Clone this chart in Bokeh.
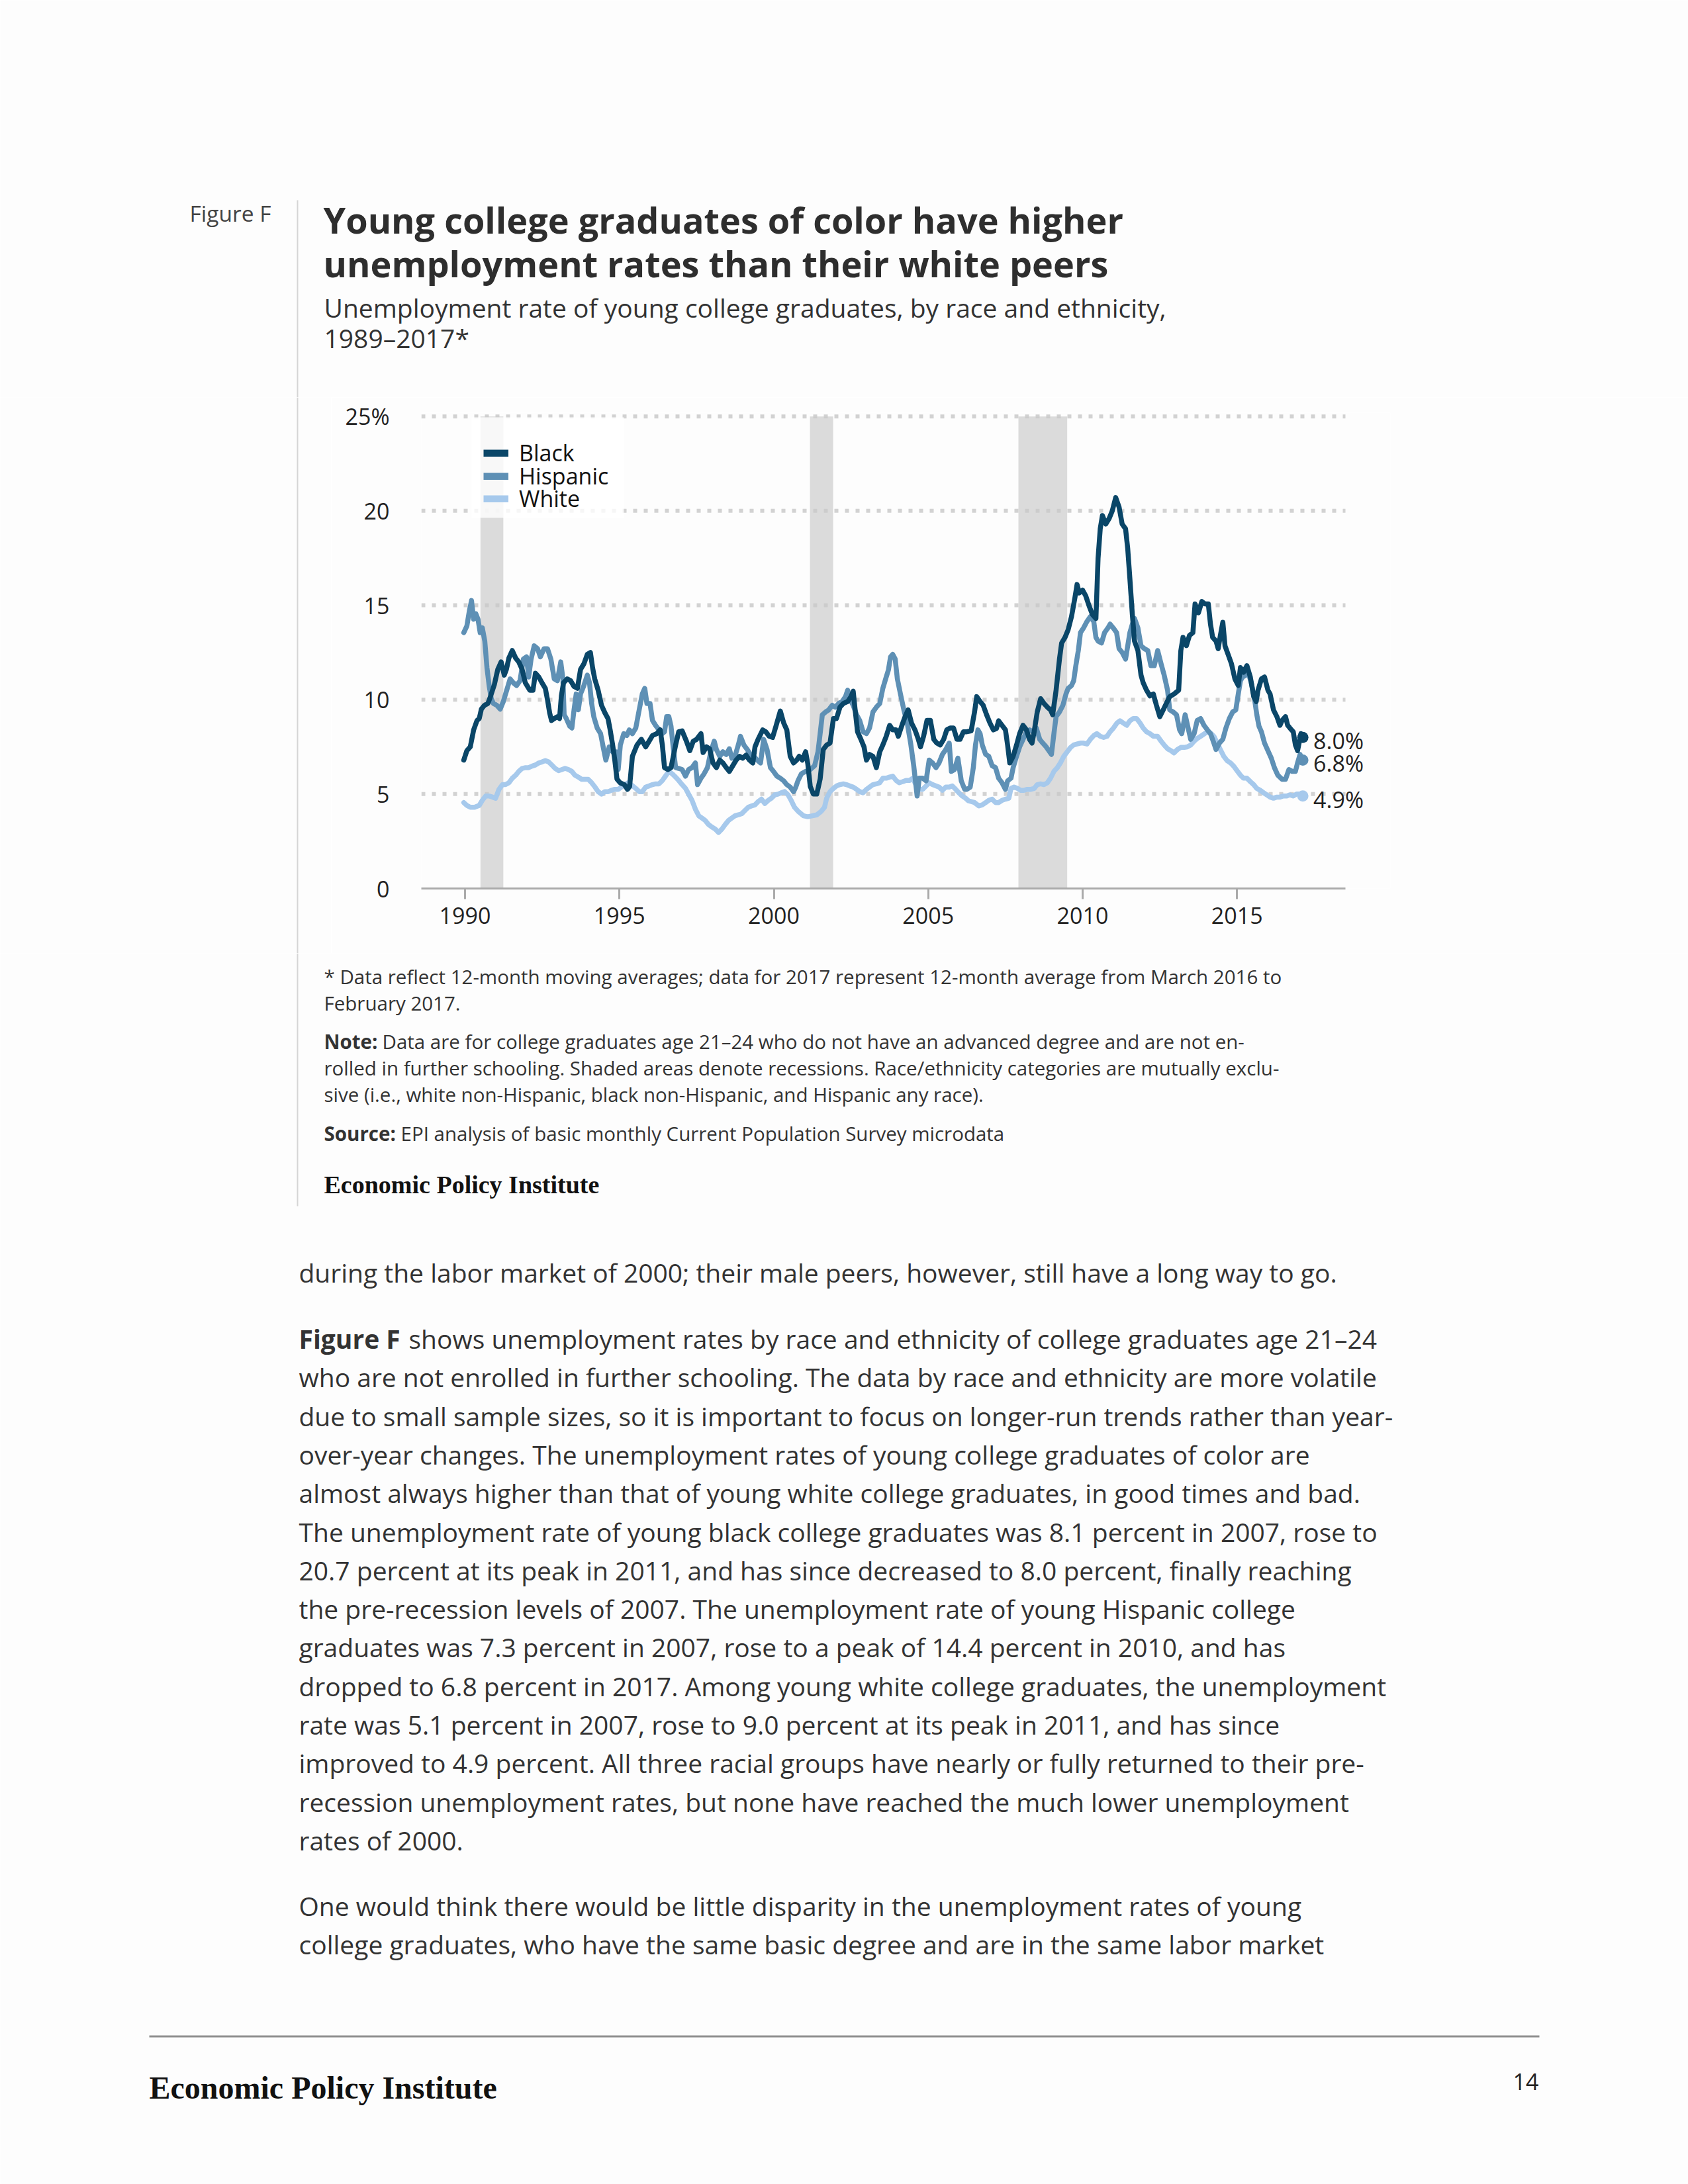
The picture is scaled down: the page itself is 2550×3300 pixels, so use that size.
from bokeh.plotting import figure
from bokeh.layouts import column, row
from bokeh.models import Range1d, FixedTicker, Label, LabelSet, Legend, LegendItem, BoxAnnotation, ColumnDataSource
from bokeh.core.properties import value
from bokeh.embed import file_html
from bokeh.resources import INLINE

# ---------------- data ----------------
black_year = [1989.96, 1990.06, 1990.17, 1990.28, 1990.39, 1990.46, 1990.53, 1990.63, 1990.74, 1990.81, 1990.95,
              1991.06, 1991.17, 1991.27, 1991.34, 1991.42, 1991.53, 1991.64, 1991.74, 1991.85, 1991.95, 1992.10,
              1992.20, 1992.28, 1992.39, 1992.49, 1992.60, 1992.67, 1992.74, 1992.80, 1992.89, 1992.99, 1993.06,
              1993.12, 1993.19, 1993.31, 1993.42, 1993.53, 1993.64, 1993.74, 1993.85, 1993.96, 1994.06, 1994.13,
              1994.20, 1994.31, 1994.42, 1994.53, 1994.63, 1994.70, 1994.78, 1994.85, 1994.92, 1995.02, 1995.16,
              1995.26, 1995.33, 1995.42, 1995.57, 1995.71, 1995.85, 1995.96, 1996.07, 1996.21, 1996.32, 1996.39,
              1996.46, 1996.57, 1996.67, 1996.82, 1996.92, 1997.03, 1997.17, 1997.28, 1997.39, 1997.50, 1997.64,
              1997.71, 1997.82, 1997.92, 1998.03, 1998.14, 1998.25, 1998.35, 1998.46, 1998.56, 1998.67, 1998.78,
              1998.89, 1998.99, 1999.10, 1999.21, 1999.32, 1999.39, 1999.49, 1999.64, 1999.74, 1999.85, 1999.96,
              2000.07, 2000.21, 2000.32, 2000.42, 2000.53, 2000.64, 2000.74, 2000.82, 2000.92, 2001.03, 2001.10,
              2001.18, 2001.28, 2001.39, 2001.50, 2001.60, 2001.71, 2001.82, 2001.93, 2002.03, 2002.14, 2002.25,
              2002.39, 2002.50, 2002.57, 2002.64, 2002.71, 2002.82, 2002.92, 2003.00, 2003.10, 2003.21, 2003.32,
              2003.43, 2003.53, 2003.64, 2003.75, 2003.85, 2003.96, 2004.03, 2004.14, 2004.25, 2004.35, 2004.46,
              2004.57, 2004.68, 2004.75, 2004.85, 2004.96, 2005.07, 2005.18, 2005.28, 2005.39, 2005.50, 2005.60,
              2005.71, 2005.82, 2005.93, 2006.03, 2006.14, 2006.25, 2006.39, 2006.50, 2006.57, 2006.68, 2006.78,
              2006.89, 2007.00, 2007.11, 2007.21, 2007.28, 2007.39, 2007.50, 2007.57, 2007.64, 2007.75, 2007.86,
              2007.96, 2008.07, 2008.18, 2008.28, 2008.36, 2008.43, 2008.53, 2008.64, 2008.75, 2008.86, 2008.96,
              2009.03, 2009.14, 2009.25, 2009.32, 2009.43, 2009.53, 2009.64, 2009.75, 2009.82, 2009.89, 2010.00,
              2010.10, 2010.21, 2010.32, 2010.43, 2010.50, 2010.57, 2010.64, 2010.75, 2010.86, 2010.96, 2011.07,
              2011.18, 2011.28, 2011.39, 2011.46, 2011.53, 2011.61, 2011.68, 2011.79, 2011.89, 2011.96, 2012.07,
              2012.18, 2012.29, 2012.39, 2012.50, 2012.61, 2012.71, 2012.82, 2012.96, 2013.11, 2013.18, 2013.25,
              2013.36, 2013.46, 2013.57, 2013.64, 2013.75, 2013.86, 2013.96, 2014.07, 2014.14, 2014.21, 2014.32,
              2014.39, 2014.46, 2014.54, 2014.61, 2014.71, 2014.82, 2014.93, 2015.04, 2015.11, 2015.21, 2015.32,
              2015.43, 2015.54, 2015.62, 2015.68, 2015.79, 2015.89, 2016.00, 2016.07, 2016.18, 2016.29, 2016.39,
              2016.46, 2016.57, 2016.64, 2016.71, 2016.82, 2016.89, 2016.96, 2017.07, 2017.13]
black_rate = [6.8, 7.3, 7.5, 8.4, 8.9, 9.0, 9.5, 9.7, 9.8, 10.1, 10.8,
              11.6, 12.0, 11.3, 11.6, 12.2, 12.6, 12.2, 12.0, 11.6, 10.9, 10.5,
              10.5, 11.4, 11.2, 10.9, 10.6, 10.0, 9.3, 8.9, 9.0, 9.1, 9.0,
              10.2, 10.9, 11.1, 11.0, 10.7, 10.6, 11.6, 11.9, 12.4, 12.5, 11.7,
              11.1, 10.5, 9.7, 9.3, 9.0, 8.4, 7.6, 6.8, 5.8, 5.6, 5.5,
              5.25, 5.4, 7.0, 7.6, 7.9, 7.5, 7.8, 8.1, 8.2, 8.4, 7.6,
              6.4, 6.3, 6.4, 7.6, 8.3, 8.35, 7.8, 7.3, 7.8, 7.9, 8.2,
              7.2, 7.5, 7.4, 6.65, 6.4, 6.8, 6.65, 6.4, 6.2, 6.5, 6.8,
              7.0, 6.9, 7.06, 6.8, 6.65, 7.5, 7.9, 8.4, 8.3, 8.06, 8.0,
              8.6, 9.4, 8.76, 8.4, 7.0, 6.65, 6.8, 7.0, 6.8, 7.24, 6.6,
              5.4, 5.0, 5.0, 5.8, 7.36, 7.6, 7.7, 9.0, 9.0, 9.6, 9.8,
              9.9, 10.16, 10.45, 9.35, 8.3, 7.9, 7.5, 6.8, 7.1, 7.0, 6.4,
              7.24, 7.6, 8.06, 8.64, 8.4, 8.4, 8.06, 8.6, 9.1, 9.46, 8.76,
              8.4, 7.9, 7.5, 8.06, 8.9, 8.9, 7.9, 7.7, 7.6, 7.9, 8.4,
              8.5, 8.5, 7.9, 7.9, 8.3, 8.3, 8.35, 9.35, 10.16, 9.9, 9.7,
              9.2, 8.76, 8.4, 8.47, 8.88, 8.64, 8.4, 7.6, 6.65, 7.0, 7.6,
              8.2, 8.64, 8.4, 7.9, 7.7, 8.3, 9.35, 10.05, 9.8, 9.6, 9.46,
              9.2, 10.5, 12.15, 13.0, 13.3, 13.7, 14.4, 15.4, 16.1, 15.65, 15.8,
              15.5, 14.96, 14.5, 14.3, 17.5, 19.05, 19.75, 19.3, 19.6, 20.0, 20.7,
              20.2, 19.3, 19.05, 18.0, 16.4, 14.5, 13.1, 12.6, 11.3, 10.9, 10.5,
              10.2, 10.3, 9.7, 9.1, 9.46, 9.8, 10.16, 10.3, 10.5, 12.6, 13.3,
              12.86, 13.4, 13.55, 15.07, 14.6, 15.2, 15.07, 15.07, 14.0, 13.3, 13.1,
              12.7, 13.4, 14.1, 12.85, 12.4, 11.9, 11.1, 10.75, 11.7, 11.45, 11.8,
              11.2, 10.16, 9.9, 10.5, 11.1, 11.2, 10.5, 10.3, 9.46, 9.1, 8.64,
              8.9, 9.1, 8.64, 8.5, 8.3, 7.6, 7.3, 8.2, 8.0]

hisp_year = [1989.96, 1990.06, 1990.14, 1990.21, 1990.28, 1990.35, 1990.42, 1990.49, 1990.56, 1990.64, 1990.71,
             1990.78, 1990.85, 1990.92, 1991.03, 1991.14, 1991.24, 1991.35, 1991.46, 1991.56, 1991.67, 1991.78,
             1991.89, 1991.99, 1992.06, 1992.14, 1992.24, 1992.35, 1992.44, 1992.56, 1992.67, 1992.78, 1992.89,
             1992.99, 1993.10, 1993.17, 1993.21, 1993.28, 1993.39, 1993.46, 1993.53, 1993.60, 1993.67, 1993.74,
             1993.85, 1993.96, 1994.03, 1994.10, 1994.17, 1994.28, 1994.39, 1994.49, 1994.56, 1994.67, 1994.78,
             1994.89, 1994.96, 1995.03, 1995.14, 1995.24, 1995.32, 1995.42, 1995.53, 1995.64, 1995.74, 1995.82,
             1995.89, 1995.99, 1996.07, 1996.17, 1996.28, 1996.39, 1996.46, 1996.53, 1996.60, 1996.67, 1996.74,
             1996.82, 1996.92, 1997.03, 1997.14, 1997.24, 1997.35, 1997.46, 1997.53, 1997.64, 1997.74, 1997.85,
             1997.96, 1998.07, 1998.14, 1998.25, 1998.35, 1998.46, 1998.56, 1998.64, 1998.74, 1998.85, 1998.92,
             1999.03, 1999.14, 1999.24, 1999.35, 1999.46, 1999.57, 1999.67, 1999.78, 1999.89, 1999.99, 2000.10,
             2000.21, 2000.32, 2000.42, 2000.53, 2000.64, 2000.71, 2000.78, 2000.89, 2001.03, 2001.18, 2001.32,
             2001.43, 2001.50, 2001.57, 2001.68, 2001.78, 2001.89, 2001.99, 2002.10, 2002.21, 2002.32, 2002.39,
             2002.46, 2002.57, 2002.68, 2002.78, 2002.89, 2003.00, 2003.10, 2003.21, 2003.32, 2003.43, 2003.53,
             2003.64, 2003.71, 2003.78, 2003.85, 2003.93, 2004.00, 2004.10, 2004.21, 2004.32, 2004.43, 2004.53,
             2004.64, 2004.71, 2004.82, 2004.93, 2005.03, 2005.14, 2005.25, 2005.35, 2005.46, 2005.57, 2005.68,
             2005.75, 2005.85, 2005.96, 2006.07, 2006.18, 2006.25, 2006.36, 2006.46, 2006.53, 2006.61, 2006.68,
             2006.75, 2006.86, 2006.96, 2007.07, 2007.18, 2007.28, 2007.39, 2007.50, 2007.57, 2007.68, 2007.75,
             2007.86, 2007.96, 2008.07, 2008.18, 2008.28, 2008.39, 2008.50, 2008.61, 2008.71, 2008.82, 2008.93,
             2008.99, 2009.07, 2009.14, 2009.25, 2009.36, 2009.46, 2009.53, 2009.64, 2009.71, 2009.78, 2009.86,
             2009.93, 2010.03, 2010.14, 2010.25, 2010.36, 2010.43, 2010.50, 2010.61, 2010.71, 2010.82, 2010.89,
             2010.99, 2011.10, 2011.18, 2011.28, 2011.39, 2011.46, 2011.53, 2011.61, 2011.68, 2011.79, 2011.89,
             2012.00, 2012.11, 2012.21, 2012.32, 2012.43, 2012.54, 2012.64, 2012.75, 2012.82, 2012.93, 2013.04,
             2013.14, 2013.21, 2013.32, 2013.43, 2013.50, 2013.61, 2013.71, 2013.82, 2013.93, 2014.04, 2014.14,
             2014.25, 2014.32, 2014.43, 2014.54, 2014.64, 2014.75, 2014.86, 2014.96, 2015.04, 2015.11, 2015.18,
             2015.29, 2015.36, 2015.46, 2015.57, 2015.64, 2015.71, 2015.79, 2015.89, 2016.00, 2016.11, 2016.21,
             2016.32, 2016.46, 2016.57, 2016.68, 2016.79, 2016.89, 2016.96, 2017.04, 2017.13]
hisp_rate = [13.55, 13.9, 14.7, 15.25, 14.26, 14.55, 14.26, 13.55, 13.8, 13.1, 11.7,
             10.75, 10.05, 9.8, 9.7, 9.5, 9.9, 10.5, 11.1, 10.9, 10.75, 11.0,
             12.15, 12.27, 11.2, 12.15, 12.85, 12.7, 12.27, 12.7, 12.7, 12.15, 11.1,
             11.0, 12.0, 11.1, 9.2, 9.0, 8.6, 8.5, 9.46, 10.3, 9.46, 10.3,
             10.75, 11.3, 10.9, 9.8, 9.1, 8.5, 8.2, 7.36, 6.8, 7.5, 7.24,
             7.24, 6.3, 7.6, 8.2, 8.1, 8.4, 8.2, 8.5, 9.46, 10.3, 10.6,
             9.8, 9.8, 8.9, 8.64, 8.4, 8.2, 8.3, 9.1, 9.1, 8.6, 7.5,
             6.4, 6.36, 6.3, 5.95, 6.3, 6.4, 6.65, 5.5, 5.84, 6.07, 6.4,
             7.24, 7.8, 7.36, 7.0, 7.24, 7.1, 7.4, 6.9, 7.0, 7.6, 8.06,
             7.6, 7.36, 7.1, 7.0, 6.8, 6.65, 7.9, 7.36, 6.4, 6.2, 5.95,
             5.84, 5.7, 5.5, 5.37, 5.13, 5.37, 5.7, 6.07, 6.2, 6.3, 6.5,
             7.24, 8.2, 9.2, 9.35, 9.46, 9.7, 9.6, 9.8, 9.9, 10.16, 10.5,
             10.05, 9.7, 9.2, 8.9, 8.3, 8.2, 8.5, 9.35, 9.6, 9.8, 10.6,
             11.2, 11.57, 12.27, 12.4, 12.15, 11.1, 10.3, 9.46, 8.76, 7.7, 6.5,
             4.9, 5.84, 5.84, 5.7, 6.8, 6.65, 6.4, 6.65, 7.1, 7.36, 7.7,
             6.2, 6.3, 6.9, 5.7, 5.25, 5.25, 5.37, 6.4, 7.6, 8.4, 8.2,
             7.6, 7.1, 7.0, 6.5, 6.4, 5.84, 5.6, 5.25, 5.7, 5.84, 6.4,
             7.0, 7.5, 7.9, 8.3, 8.4, 8.3, 8.5, 7.9, 7.7, 7.5, 7.24,
             7.1, 8.2, 9.1, 9.35, 9.7, 10.3, 10.6, 10.75, 11.0, 11.8, 12.6,
             13.55, 13.8, 14.14, 14.4, 14.14, 13.3, 13.1, 13.0, 13.55, 13.8, 14.0,
             13.8, 13.55, 12.7, 12.5, 12.15, 12.85, 13.55, 14.0, 14.3, 13.8, 12.85,
             12.7, 12.6, 11.8, 11.8, 12.6, 11.9, 11.3, 10.5, 9.46, 9.35, 9.2,
             8.4, 8.2, 9.2, 8.4, 7.9, 8.2, 8.9, 9.0, 8.64, 8.4, 8.2,
             7.7, 7.36, 7.7, 7.9, 8.5, 9.0, 9.35, 9.46, 10.3, 11.0, 11.2,
             11.3, 11.45, 10.9, 10.0, 9.2, 8.6, 8.3, 7.7, 7.3, 6.9, 6.4,
             6.0, 5.78, 5.78, 6.3, 6.2, 6.2, 6.65, 7.1, 6.8]

white_year = [1989.96, 1990.06, 1990.17, 1990.31, 1990.46, 1990.56, 1990.67, 1990.78, 1990.89, 1990.99, 1991.10,
              1991.21, 1991.31, 1991.42, 1991.53, 1991.64, 1991.74, 1991.85, 1991.96, 1992.06, 1992.17, 1992.28,
              1992.39, 1992.49, 1992.60, 1992.71, 1992.81, 1992.92, 1993.03, 1993.14, 1993.24, 1993.35, 1993.46,
              1993.56, 1993.67, 1993.78, 1993.89, 1993.99, 1994.10, 1994.21, 1994.31, 1994.42, 1994.53, 1994.64,
              1994.74, 1994.85, 1994.96, 1995.06, 1995.17, 1995.28, 1995.38, 1995.53, 1995.64, 1995.74, 1995.85,
              1995.96, 1996.07, 1996.17, 1996.28, 1996.39, 1996.49, 1996.60, 1996.71, 1996.82, 1996.92, 1997.03,
              1997.14, 1997.24, 1997.35, 1997.46, 1997.57, 1997.67, 1997.78, 1997.89, 1997.99, 1998.10, 1998.21,
              1998.32, 1998.42, 1998.53, 1998.64, 1998.74, 1998.85, 1998.96, 1999.07, 1999.17, 1999.28, 1999.39,
              1999.49, 1999.60, 1999.71, 1999.82, 1999.92, 2000.03, 2000.14, 2000.24, 2000.35, 2000.46, 2000.56,
              2000.67, 2000.78, 2000.96, 2001.10, 2001.25, 2001.39, 2001.53, 2001.64, 2001.71, 2001.82, 2001.93,
              2002.03, 2002.14, 2002.25, 2002.35, 2002.46, 2002.57, 2002.68, 2002.78, 2002.89, 2003.00, 2003.10,
              2003.21, 2003.32, 2003.43, 2003.53, 2003.64, 2003.75, 2003.85, 2003.96, 2004.06, 2004.18, 2004.28,
              2004.39, 2004.50, 2004.60, 2004.71, 2004.82, 2004.93, 2005.03, 2005.14, 2005.25, 2005.35, 2005.46,
              2005.57, 2005.68, 2005.78, 2005.89, 2005.99, 2006.10, 2006.21, 2006.30, 2006.40, 2006.50, 2006.64,
              2006.75, 2006.86, 2006.96, 2007.07, 2007.18, 2007.28, 2007.39, 2007.50, 2007.61, 2007.68, 2007.78,
              2007.89, 2007.99, 2008.10, 2008.21, 2008.32, 2008.43, 2008.53, 2008.64, 2008.75, 2008.86, 2008.96,
              2009.07, 2009.18, 2009.28, 2009.39, 2009.50, 2009.61, 2009.71, 2009.82, 2009.93, 2010.03, 2010.14,
              2010.25, 2010.36, 2010.46, 2010.57, 2010.68, 2010.79, 2010.89, 2011.00, 2011.11, 2011.21, 2011.32,
              2011.43, 2011.53, 2011.64, 2011.75, 2011.86, 2011.96, 2012.07, 2012.18, 2012.29, 2012.43, 2012.54,
              2012.64, 2012.75, 2012.86, 2012.96, 2013.07, 2013.18, 2013.29, 2013.39, 2013.50, 2013.61, 2013.71,
              2013.82, 2013.93, 2014.04, 2014.14, 2014.25, 2014.36, 2014.46, 2014.57, 2014.68, 2014.79, 2014.89,
              2015.00, 2015.11, 2015.21, 2015.32, 2015.43, 2015.54, 2015.64, 2015.75, 2015.86, 2015.96, 2016.07,
              2016.18, 2016.29, 2016.39, 2016.50, 2016.61, 2016.71, 2016.82, 2016.93, 2017.04, 2017.13]
white_rate = [4.55, 4.4, 4.3, 4.3, 4.4, 4.67, 4.9, 4.9, 4.84, 4.78, 5.25,
              5.5, 5.5, 5.6, 5.84, 6.0, 6.2, 6.36, 6.4, 6.4, 6.48, 6.54,
              6.65, 6.7, 6.77, 6.7, 6.54, 6.36, 6.24, 6.3, 6.36, 6.3, 6.2,
              6.0, 5.9, 5.78, 5.78, 5.78, 5.6, 5.37, 5.13, 5.0, 5.13, 5.13,
              5.2, 5.25, 5.25, 5.37, 5.5, 5.6, 5.5, 5.3, 5.13, 5.13, 5.37,
              5.43, 5.5, 5.54, 5.54, 5.72, 5.95, 6.2, 6.07, 5.9, 5.72, 5.5,
              5.3, 5.0, 4.67, 4.2, 3.85, 3.73, 3.6, 3.38, 3.26, 3.15, 2.97,
              3.15, 3.38, 3.6, 3.73, 3.85, 3.9, 3.96, 4.14, 4.3, 4.37, 4.43,
              4.6, 4.73, 4.5, 4.67, 4.78, 4.96, 5.0, 5.07, 5.13, 4.96, 4.67,
              4.3, 4.1, 3.85, 3.8, 3.85, 3.9, 4.08, 4.3, 4.78, 5.13, 5.3,
              5.43, 5.5, 5.54, 5.5, 5.43, 5.37, 5.25, 5.13, 5.07, 5.25, 5.37,
              5.5, 5.54, 5.6, 5.84, 5.84, 5.9, 5.95, 5.72, 5.6, 5.66, 5.72,
              5.72, 5.84, 5.5, 5.25, 5.25, 5.43, 5.6, 5.5, 5.43, 5.37, 5.2,
              5.37, 5.37, 5.43, 5.25, 5.07, 4.9, 4.78, 4.65, 4.6, 4.55, 4.37,
              4.43, 4.55, 4.67, 4.73, 4.55, 4.55, 4.67, 4.73, 4.78, 5.3, 5.37,
              5.3, 5.2, 5.2, 5.25, 5.25, 5.3, 5.5, 5.54, 5.5, 5.6, 5.84,
              6.2, 6.4, 6.65, 7.0, 7.24, 7.47, 7.6, 7.65, 7.7, 7.7, 7.65,
              7.9, 8.1, 8.2, 8.06, 8.0, 8.06, 8.3, 8.5, 8.76, 8.88, 8.76,
              8.64, 8.88, 9.0, 9.0, 8.76, 8.5, 8.3, 8.2, 8.06, 8.06, 7.8,
              7.6, 7.4, 7.3, 7.18, 7.36, 7.47, 7.47, 7.5, 7.6, 7.8, 7.94,
              8.06, 8.18, 8.3, 8.24, 8.06, 7.7, 7.36, 7.0, 6.77, 6.65, 6.48,
              6.24, 6.0, 5.84, 5.84, 5.66, 5.5, 5.3, 5.2, 5.07, 4.96, 4.84,
              4.78, 4.84, 4.84, 4.9, 4.9, 4.96, 4.9, 5.0, 5.0, 4.9]

recession_start = [1990.50, 2001.17, 2007.92]
recession_end = [1991.24, 2001.92, 2009.50]

series_names = ["Black", "Hispanic", "White"]
x_ticks = [1990, 1995, 2000, 2005, 2010, 2015]
y_ticks = [0, 5, 10, 15, 20, 25]

title_lines = ["Young college graduates of color have higher",
               "unemployment rates than their white peers"]
subtitle_lines = ["Unemployment rate of young college graduates, by race and ethnicity,",
                  "1989\u20132017*"]
note_lines = [
    ("", "* Data reflect 12-month moving averages; data for 2017 represent 12-month average from March 2016 to"),
    ("", "February 2017."),
    ("Note:", "Data are for college graduates age 21\u201324 who do not have an advanced degree and are not en-"),
    ("", "rolled in further schooling. Shaded areas denote recessions. Race/ethnicity categories are mutually exclu-"),
    ("", "sive (i.e., white non-Hispanic, black non-Hispanic, and Hispanic any race)."),
    ("Source:", "EPI analysis of basic monthly Current Population Survey microdata"),
]
body_para1 = ["during the labor market of 2000; their male peers, however, still have a long way to go."]
body_para2 = [
    "shows unemployment rates by race and ethnicity of college graduates age 21\u201324",
    "who are not enrolled in further schooling. The data by race and ethnicity are more volatile",
    "due to small sample sizes, so it is important to focus on longer-run trends rather than year-",
    "over-year changes. The unemployment rates of young college graduates of color are",
    "almost always higher than that of young white college graduates, in good times and bad.",
    "The unemployment rate of young black college graduates was 8.1 percent in 2007, rose to",
    "20.7 percent at its peak in 2011, and has since decreased to 8.0 percent, finally reaching",
    "the pre-recession levels of 2007. The unemployment rate of young Hispanic college",
    "graduates was 7.3 percent in 2007, rose to a peak of 14.4 percent in 2010, and has",
    "dropped to 6.8 percent in 2017. Among young white college graduates, the unemployment",
    "rate was 5.1 percent in 2007, rose to 9.0 percent at its peak in 2011, and has since",
    "improved to 4.9 percent. All three racial groups have nearly or fully returned to their pre-",
    "recession unemployment rates, but none have reached the much lower unemployment",
    "rates of 2000.",
]
body_para3 = [
    "One would think there would be little disparity in the unemployment rates of young",
    "college graduates, who have the same basic degree and are in the same labor market",
]

# ---------------- style / geometry ----------------
BG = "#fdfdfd"
C_BLACK = "#0a4668"
C_HISP = "#5e90b5"
C_WHITE = "#a6c9ec"
TXT = "#333333"
FONT = "Open Sans"
SERIF = "Liberation Serif"
PAGE_W = 2550
TOP_H = 600          # header band height
MID_H = 840          # chart band height
BOT_H = 3300 - TOP_H - MID_H
LEFT_W = 500         # strip left of the chart figure
DIV_X, DIV_Y0, DIV_Y1 = 449, 302, 1822

# chart frame edges in page px
FL, FR, FT, FB = 636, 2100, 623, 1342
PX_PER_YEAR = 46.65
X0 = 1990 - (702 - FL) / PX_PER_YEAR
X_AXIS_END = X0 + (2032 - FL) / PX_PER_YEAR
X1 = X0 + (FR - FL) / PX_PER_YEAR
Y0, Y1 = 0.0, 25.2
YS = (Y1 - Y0) / (FB - FT)


def text_fig(h, w=PAGE_W):
    f = figure(width=w, height=h, output_backend="svg", toolbar_location=None,
               x_range=Range1d(0, w), y_range=Range1d(h, 0),
               x_axis_location=None, y_axis_location=None,
               min_border=0, min_border_left=0, min_border_right=0, min_border_top=0, min_border_bottom=0,
               background_fill_color=BG, border_fill_color=BG)
    f.outline_line_color = None
    f.grid.visible = False
    f.frame_align = False
    return f


def add_text(f, txt, x, y, size, color=TXT, style="normal", font=FONT, align="left"):
    f.add_layout(Label(x=x, y=y, text=txt, text_font=font, text_font_size=f"{size}px",
                       text_font_style=style, text_color=color, text_align=align,
                       text_baseline="alphabetic"))


# ---------------- header ----------------
top = text_fig(TOP_H)
top.segment(x0=[DIV_X], y0=[DIV_Y0], x1=[DIV_X], y1=[TOP_H], line_color="#d5d5d5", line_width=2)
add_text(top, "Figure F", 286, 321, 33.5, color="#444444")
for i, t in enumerate(title_lines):
    add_text(top, t, 488, 331 + 66 * i, 54, style="bold", color="#2e2e2e")
for i, t in enumerate(subtitle_lines):
    add_text(top, t, 489, 464 + 46 * i, 39)

# ---------------- chart band ----------------
left = text_fig(MID_H, LEFT_W)
left.segment(x0=[DIV_X], y0=[0], x1=[DIV_X], y1=[MID_H], line_color="#d5d5d5", line_width=2)

p = figure(width=PAGE_W - LEFT_W, height=MID_H, output_backend="svg", toolbar_location=None,
           x_range=Range1d(X0, X1), y_range=Range1d(Y0, Y1),
           min_border_left=FL - LEFT_W, min_border_right=PAGE_W - FR,
           min_border_top=FT - TOP_H, min_border_bottom=TOP_H + MID_H - FB,
           background_fill_color=BG, border_fill_color=BG)
p.outline_line_color = None
p.grid.visible = False
p.frame_align = False

p.xaxis.ticker = FixedTicker(ticks=x_ticks)
p.xaxis.bounds = (X0, X_AXIS_END)
p.xaxis.major_label_overrides = {t: str(t) for t in x_ticks}
p.xaxis.axis_line_color = "#aaaaaa"
p.xaxis.axis_line_width = 3
p.xaxis.major_tick_line_color = "#aaaaaa"
p.xaxis.major_tick_line_width = 3
p.xaxis.major_tick_out = 16
p.xaxis.major_tick_in = 0
p.xaxis.minor_tick_line_color = None
p.xaxis.major_label_standoff = 12
p.xaxis.major_label_text_font = FONT
p.xaxis.major_label_text_font_size = "34px"
p.xaxis.major_label_text_color = "#222222"

p.yaxis.ticker = FixedTicker(ticks=y_ticks)
p.yaxis.major_label_overrides = {t: (f"{t}%" if t == y_ticks[-1] else str(t)) for t in y_ticks}
p.yaxis.axis_line_color = None
p.yaxis.major_tick_line_color = None
p.yaxis.minor_tick_line_color = None
p.yaxis.major_tick_out = 0
p.yaxis.major_label_standoff = 48
p.yaxis.major_label_text_font = FONT
p.yaxis.major_label_text_font_size = "34px"
p.yaxis.major_label_text_color = "#222222"

# dotted gridlines, limited to the axis extent
gy = y_ticks[1:]
p.segment(x0=[X0] * len(gy), x1=[X_AXIS_END] * len(gy), y0=gy, y1=gy,
          line_color="#d2d2d2", line_width=6, line_dash="6 10")

# recessions
p.quad(left=recession_start, right=recession_end, bottom=y_ticks[0], top=y_ticks[-1],
       fill_color="#c9c9c9", fill_alpha=0.65, line_color=None)

# legend backdrop (lightens the shading behind the key)
p.add_layout(BoxAnnotation(left=X0 + (712 - FL) / PX_PER_YEAR, right=X0 + (942 - FL) / PX_PER_YEAR,
                           top=(FB - 630) * YS, bottom=(FB - 782) * YS,
                           fill_color="white", fill_alpha=0.8, line_color=None, level="glyph"))

# series
for yr, rt, col in [(white_year, white_rate, C_WHITE), (hisp_year, hisp_rate, C_HISP), (black_year, black_rate, C_BLACK)]:
    p.line(yr, rt, line_color=col, line_width=7.5, line_join="round", line_cap="round")
    p.scatter([yr[-1]], [rt[-1]], size=17, fill_color=col, line_color=None)

# end labels
end_src = ColumnDataSource(dict(x=[black_year[-1], hisp_year[-1], white_year[-1]],
                                y=[black_rate[-1], hisp_rate[-1], white_rate[-1]],
                                t=[f"{v:.1f}%" for v in [black_rate[-1], hisp_rate[-1], white_rate[-1]]]))
p.add_layout(LabelSet(x="x", y="y", text="t", source=end_src, x_offset=16, y_offset=-5,
                      text_font=value(FONT), text_font_size=value("34px"), text_color=value("#222222"),
                      text_baseline=value("middle"), text_align=value("left")))

# legend: one single-item legend per row
nan = float("nan")
row_centers = [688, 723, 757]
for name, col, c in zip(series_names, [C_BLACK, C_HISP, C_WHITE], row_centers):
    r = p.line([nan, nan], [nan, nan], line_color=col, line_width=11)
    lg = Legend(items=[LegendItem(label=name, renderers=[r])],
                location=(730 - FL, FB - (c + 19)), orientation="vertical",
                background_fill_alpha=0, border_line_color=None,
                label_text_font=FONT, label_text_font_size="34px", label_text_color="#111111",
                label_text_line_height=1.0,
                glyph_width=38, glyph_height=11, label_height=20, spacing=0, padding=0,
                label_standoff=16, margin=0)
    p.add_layout(lg)

# ---------------- notes, body and footer ----------------
bot = text_fig(BOT_H)
Y_OFF = TOP_H + MID_H
bot.segment(x0=[DIV_X], y0=[0], x1=[DIV_X], y1=[DIV_Y1 - Y_OFF], line_color="#d5d5d5", line_width=2)

NOTE_SIZE = 29.5
note_base = [1475, 1515, 1573, 1613, 1653, 1712]
for (b, t), y in zip(note_lines, note_base):
    if b:
        add_text(bot, b, 489, y - Y_OFF, NOTE_SIZE, style="bold")
        add_text(bot, t, 489 + (88 if b == "Note:" else 116), y - Y_OFF, NOTE_SIZE)
    else:
        add_text(bot, t, 489, y - Y_OFF, NOTE_SIZE)
add_text(bot, "Economic Policy Institute", 489, 1789 - Y_OFF, 38, style="bold", font=SERIF, color="#111111")

BODY_SIZE = 39
add_text(bot, body_para1[0], 451, 1922 - Y_OFF, BODY_SIZE)
for i, t in enumerate(body_para2):
    y = 2022 + 58.3 * i - Y_OFF
    if i == 0:
        add_text(bot, "Figure F", 451, y, BODY_SIZE, style="bold")
        add_text(bot, t, 617, y, BODY_SIZE)
    else:
        add_text(bot, t, 451, y, BODY_SIZE)
for i, t in enumerate(body_para3):
    add_text(bot, t, 451, 2879 + 58.3 * i - Y_OFF, BODY_SIZE)

bot.segment(x0=[225], y0=[3076.5 - Y_OFF], x1=[2325], y1=[3076.5 - Y_OFF], line_color="#8f8f8f", line_width=3)
add_text(bot, "Economic Policy Institute", 225, 3154 - Y_OFF, 48, style="bold", font=SERIF, color="#111111")
add_text(bot, "14", 2324, 3145 - Y_OFF, 34, color="#222222", align="right")

layout = column(top, row(left, p), bot)
open("out.html", "w").write(file_html(layout, INLINE))
